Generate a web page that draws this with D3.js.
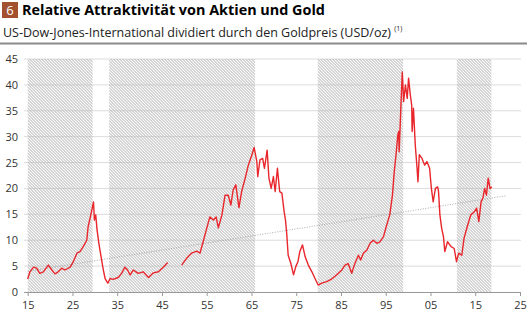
<!DOCTYPE html>
<html>
<head>
<meta charset="utf-8">
<script src="https://cdn.jsdelivr.net/npm/d3@7"></script>
<style>
  body { margin: 0; background: #fff; }
  svg { display: block; font-family: "Open Sans", sans-serif; }
</style>
</head>
<body>
<svg id="chart" width="527" height="315"></svg>
<script>
// Dow Jones / gold ratio (null = gap in the series)
const years = [1915.0,1915.5,1916.3,1917.0,1917.7,1918.5,1919.6,1920.4,1921.1,1921.8,1922.6,1923.3,1924.5,1925.2,1926.0,1926.7,1927.4,1928.2,1928.5,1929.1,1929.7,1929.9,1930.2,1930.5,1930.9,1931.4,1931.9,1932.3,1932.9,1933.4,1934.1,1935.2,1936.0,1936.7,1937.3,1937.9,1938.6,1939.7,1940.8,1942.0,1943.1,1944.2,1945.3,1946.3,1947.5,
  1949.4,1950.5,1951.6,1952.8,1953.5,1954.2,1955.0,1955.7,1956.5,1957.1,1957.6,1958.4,1959.1,1959.8,1960.4,1960.9,1961.5,1962.2,1962.8,1963.6,1964.3,1965.1,1965.6,1966.2,1966.4,1966.9,1967.5,1967.9,1968.5,1968.9,1969.4,1969.9,1970.3,1970.8,1971.3,1971.8,1972.3,1972.6,1972.9,1973.2,1973.8,1974.4,1974.9,1975.4,1975.8,1976.4,1977.0,1977.7,1978.5,1979.2,1979.9,
  1980.7,1981.8,1982.9,1984.0,1985.2,1985.9,1986.6,1987.4,1988.1,1988.9,1989.4,1990.0,1990.8,1991.5,1992.2,1993.0,1993.7,1994.5,1995.2,1995.9,1996.5,1996.9,1997.3,1997.7,1997.9,1998.0,1998.4,1998.7,1999.0,1999.4,1999.8,2000.1,2000.5,2000.8,2000.9,2001.2,2001.6,2002.0,2002.2,2002.5,2003.1,2003.7,2004.2,2004.8,2005.2,2005.6,2006.1,2006.6,2006.8,2007.1,2007.5,2007.9,2008.2,2008.8,2009.6,2010.3,2010.8,2011.3,2012.0,2012.5,2013.3,2014.0,2014.8,2015.3,2015.8,2016.3,2016.7,2017.1,2017.5,2017.9,2018.3,2018.7];
const ratio = [2.5,3.9,4.8,4.6,3.6,3.9,5.2,4.25,3.5,3.9,4.6,4.25,4.8,5.85,7.5,7.8,8.75,10.0,12.6,14.9,17.4,13.9,14.9,12.0,9.4,6.8,4.25,2.6,1.7,2.6,2.45,2.8,3.6,4.8,4.25,3.3,4.25,3.6,3.9,2.8,3.7,3.9,4.8,5.7,null,
  5.2,6.5,7.5,7.9,7.5,9.7,12.3,14.5,13.9,14.5,12.4,14.9,18.7,18.7,16.8,19.7,20.7,16.3,19.4,22.0,24.5,26.5,27.9,25.2,22.3,25.5,25.8,23.9,27.4,22.0,20.0,22.3,19.4,23.9,19.4,19.1,15.5,13.9,11.0,7.1,5.5,3.3,4.9,5.9,7.8,9.1,6.8,5.2,3.9,2.6,1.35,
  1.7,2.0,2.5,3.3,4.25,5.2,5.5,3.6,5.5,7.1,6.2,7.5,8.1,9.4,10.0,9.4,9.7,10.7,12.9,14.9,18.7,23.2,26.5,30.3,31.0,27.1,36.1,42.5,36.8,40.0,37.4,41.3,38.0,36.1,31.0,35.5,28.4,23.9,21.3,26.5,25.8,24.5,25.2,23.9,20.0,17.4,20.0,20.3,19.4,14.9,12.3,10.7,7.8,9.7,8.75,8.4,5.85,7.5,7.1,10.4,12.9,14.9,15.5,16.2,13.6,17.4,18.1,20.0,18.7,22.0,20.0,20.3];

// shaded periods [start, end]
const periodStart = [1915.0, 1933.2, 1979.8, 2010.9];
const periodEnd   = [1929.5, 1965.8, 1998.9, 2018.6];

// dotted trend line
const trendYears = [1915, 2022];
const trendValues = [4.0, 18.6];

const yTicks = [0, 5, 10, 15, 20, 25, 30, 35, 40, 45];
const xTicks = [1915, 1925, 1935, 1945, 1955, 1965, 1975, 1985, 1995, 2005, 2015, 2025];

const svg = d3.select("#chart");

const x = d3.scaleLinear().domain([1915, 2025]).range([27.7, 520]);
const y = d3.scaleLinear().domain([0, 45]).range([292, 59]);

// hatch pattern (3px horizontal period)
const hw = 3 / Math.SQRT2;
const defs = svg.append("defs");
const pat = defs.append("pattern")
  .attr("id", "hatch")
  .attr("patternUnits", "userSpaceOnUse")
  .attr("width", hw).attr("height", hw)
  .attr("patternTransform", "rotate(-45)");
pat.append("line")
  .attr("x1", 0.4).attr("y1", 0).attr("x2", 0.4).attr("y2", hw)
  .attr("stroke", "#b0b0b0").attr("stroke-width", 0.8);

// header
svg.append("rect").attr("x", 2).attr("y", 2).attr("width", 16).attr("height", 16).attr("fill", "#a2502e");
svg.append("text").attr("x", 10).attr("y", 15).attr("text-anchor", "middle")
  .attr("fill", "#fff").attr("font-size", 13).text("6");
svg.append("text").attr("x", 22).attr("y", 15)
  .attr("font-size", 14.4).attr("font-weight", "bold").attr("fill", "#000")
  .text("Relative Attraktivität von Aktien und Gold");
const sub = svg.append("text").attr("x", 3).attr("y", 37)
  .attr("font-size", 12.5).attr("fill", "#222");
sub.append("tspan").text("US-Dow-Jones-International dividiert durch den Goldpreis (USD/oz) ");
sub.append("tspan").attr("font-size", 7).attr("dy", -6).text("(1)");
svg.append("line").attr("x1", 0).attr("x2", 527).attr("y1", 43.5).attr("y2", 43.5)
  .attr("stroke", "#8a8a8a").attr("stroke-width", 2);

// gridlines
svg.append("g").selectAll("line").data(yTicks.slice(1)).enter().append("line")
  .attr("x1", 24).attr("x2", 521)
  .attr("y1", d => y(d)).attr("y2", d => y(d))
  .attr("stroke", "#dcdcdc").attr("stroke-width", 1);

// shaded periods
svg.append("g").selectAll("rect").data(periodStart).enter().append("rect")
  .attr("x", d => x(d))
  .attr("width", (d, i) => x(periodEnd[i]) - x(d))
  .attr("y", y(45)).attr("height", y(0) - y(45))
  .attr("fill", "url(#hatch)");

// y labels
svg.append("g").selectAll("text").data(yTicks).enter().append("text")
  .attr("x", 18).attr("y", d => y(d) + 4)
  .attr("text-anchor", "end").attr("font-size", 11).attr("fill", "#333")
  .text(d => d);

// x axis
const xAxis = d3.axisBottom(x).tickValues(xTicks).tickSize(4)
  .tickFormat(d => String(d % 100).padStart(2, "0"));
const gx = svg.append("g").attr("transform", "translate(0," + y(0) + ")").call(xAxis);
gx.select(".domain").attr("stroke", "#999").attr("d", "M24,0.5H521");
gx.selectAll(".tick line").attr("stroke", "#999");
gx.selectAll(".tick text").attr("font-size", 11).attr("fill", "#333")
  .attr("font-family", "Open Sans, sans-serif").attr("dy", "0.95em");

// trend
svg.append("path")
  .datum(trendYears.map((d, i) => [d, trendValues[i]]))
  .attr("d", d3.line().x(d => x(d[0])).y(d => y(d[1])))
  .attr("fill", "none").attr("stroke", "#999").attr("stroke-width", 0.8)
  .attr("stroke-dasharray", "1,1.5");

// ratio line
const line = d3.line()
  .defined(d => d[1] !== null)
  .x(d => x(d[0])).y(d => y(d[1]));
svg.append("path")
  .datum(years.map((d, i) => [d, ratio[i]]))
  .attr("d", line)
  .attr("fill", "none").attr("stroke", "#e8262b").attr("stroke-width", 1.4)
  .attr("stroke-linejoin", "round");
</script>
</body>
</html>
